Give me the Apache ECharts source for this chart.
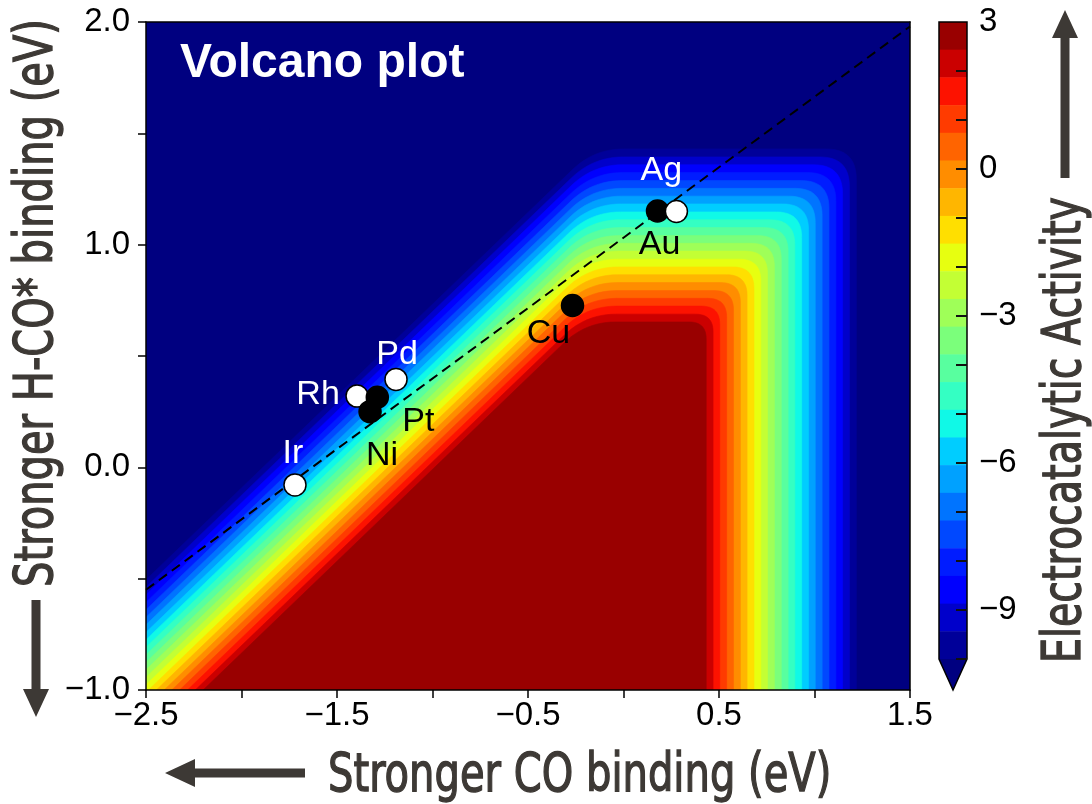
<!DOCTYPE html>
<html><head><meta charset="utf-8">
<script src="https://cdn.jsdelivr.net/npm/echarts@6/dist/echarts.min.js"></script>
<style>html,body{margin:0;padding:0;background:#fff}#c{width:1092px;height:804px}</style>
</head><body><div id="c"></div>
<script>
// ---- Data ----
// Colour-bar band edges (top to bottom)
const levels = [3, 2.435, 1.870, 1.304, 0.739, 0.174, -0.391, -0.957, -1.522, -2.087, -2.652, -3.217,
  -3.783, -4.348, -4.913, -5.478, -6.043, -6.609, -7.174, -7.739, -8.304, -8.870, -9.435, -10];
const colorbarTickLabels = [3, 0, -3, -6, -9];
const colorbarMinorTicks = [2, 1, 0, -1, -2, -3, -4, -5, -6, -7, -8, -9, -10];
// Contour lines for levels[1..23]: y of the flat top, x of the vertical right side,
// and x where the diagonal (upper-left) side crosses y = -1.0
const contourTopY = [0.653, 0.688, 0.724, 0.759, 0.794, 0.830, 0.865, 0.900, 0.935, 0.971, 1.006, 1.041,
  1.077, 1.112, 1.147, 1.183, 1.218, 1.253, 1.288, 1.324, 1.359, 1.394, 1.430];
const contourRightX = [0.433, 0.469, 0.504, 0.540, 0.576, 0.612, 0.647, 0.683, 0.719, 0.754, 0.790, 0.826,
  0.862, 0.897, 0.933, 0.969, 1.004, 1.040, 1.076, 1.112, 1.147, 1.183, 1.219];
const contourDiagX = [-2.201, -2.242, -2.283, -2.324, -2.365, -2.405, -2.446, -2.487, -2.528, -2.569, -2.610,
  -2.651, -2.692, -2.733, -2.774, -2.814, -2.855, -2.896, -2.937, -2.978, -3.019, -3.060, -3.100];
const diagSlope = 0.825;
// Catalysts
const catalysts = ['Rh', 'Pd', 'Ir', 'Pt', 'Ni', 'Cu', 'Au', 'Ag'];
const bindCO   = [-1.395, -1.191, -1.720, -1.289, -1.327, -0.267, 0.178, 0.277];
const bindHCO  = [0.320, 0.395, -0.079, 0.315, 0.250, 0.727, 1.151, 1.149];
const markerType = ['open', 'open', 'open', 'filled', 'filled', 'filled', 'filled', 'open'];
// Scaling line (dashed)
const scalingX = [-2.5, 1.5];
const scalingY = [-0.55, 1.98];
const xTickLabels = [-2.5, -1.5, -0.5, 0.5, 1.5];
const yTickLabels = [-1.0, 0.0, 1.0, 2.0];

// ---- Styles ----
const bandColors = ['#990000', '#cb0000', '#fd1200', '#ff3b00', '#ff6400', '#ff8d00', '#ffb600', '#ffdf00',
  '#e7ff10', '#c3ff34', '#9fff58', '#7bff7b', '#58ff9f', '#34ffc3', '#10f9e7', '#00cdff', '#00a1ff',
  '#0074ff', '#0048ff', '#001cff', '#0000fe', '#0000cb', '#000099'];
const underColor = '#000080';
const labelStyle = {
  Rh: {dx: -39, dy: -1, color: '#fff'}, Pd: {dx: 1, dy: -25, color: '#fff'}, Ir: {dx: -2, dy: -31, color: '#fff'},
  Pt: {dx: 41, dy: 24, color: '#000'}, Ni: {dx: 12, dy: 44, color: '#000'}, Cu: {dx: -24, dy: 28, color: '#000'},
  Au: {dx: 2, dy: 34, color: '#000'}, Ag: {dx: -15, dy: -41, color: '#fff'}
};
const numFont = '"Liberation Sans", Arial, sans-serif';
const titleFont = '"Liberation Sans Narrow", "DejaVu Sans Condensed", sans-serif';
const textGray = '#3d3935';
const minus = s => String(s).replace('-', '\u2212');

function corner(P0, P1, P2, r, n) {
  const d1 = Math.hypot(P0[0] - P1[0], P0[1] - P1[1]), d2 = Math.hypot(P2[0] - P1[0], P2[1] - P1[1]);
  const r1 = Math.min(r, d1 / 2), r2 = Math.min(r, d2 / 2);
  const S = [P1[0] + (P0[0] - P1[0]) / d1 * r1, P1[1] + (P0[1] - P1[1]) / d1 * r1];
  const E = [P1[0] + (P2[0] - P1[0]) / d2 * r2, P1[1] + (P2[1] - P1[1]) / d2 * r2];
  const pts = [];
  for (let i = 0; i <= n; i++) {
    const t = i / n, a = (1 - t) * (1 - t), b = 2 * (1 - t) * t, c = t * t;
    pts.push([a * S[0] + b * P1[0] + c * E[0], a * S[1] + b * P1[1] + c * E[1]]);
  }
  return pts;
}

function contourItem(params, api) {
  const k = api.value(0);
  const yT = contourTopY[k], xR = contourRightX[k], xD = contourDiagX[k];
  const yB = -1.4;
  const xA = xD + (yB + 1) / diagSlope;
  const xB = xD + (yT + 1) / diagSlope;
  const A = api.coord([xA, yB]), B = api.coord([xB, yT]), C = api.coord([xR, yT]), D = api.coord([xR, yB]);
  const pts = [A].concat(corner(A, B, C, 30, 12), corner(B, C, D, 17 + k * 0.6, 12), [D]);
  return {type: 'polygon', shape: {points: pts},
    style: {fill: bandColors[k], stroke: bandColors[k], lineWidth: 0.6}};
}

function bandItem(params, api) {
  const k = api.value(0);
  const p0 = api.coord([0, levels[k]]), p1 = api.coord([1, levels[k + 1]]);
  return {type: 'rect', shape: {x: p0[0], y: p0[1], width: p1[0] - p0[0], height: p1[1] - p0[1] + 0.5},
    style: {fill: bandColors[k]}};
}

function outlineItem(params, api) {
  const last = levels[levels.length - 1];
  const tl = api.coord([0, levels[0]]), tr = api.coord([1, levels[0]]);
  const br = api.coord([1, last]), bl = api.coord([0, last]);
  const tip = [(bl[0] + br[0]) / 2, bl[1] + 31];
  const children = [
    {type: 'polygon', shape: {points: [bl, br, tip]}, style: {fill: underColor}},
    {type: 'polygon', shape: {points: [tl, tr, br, tip, bl]}, style: {fill: null, stroke: '#000', lineWidth: 1.5}}
  ];
  colorbarMinorTicks.forEach(v => {
    const p = api.coord([1, v]);
    children.push({type: 'line', shape: {x1: p[0] - 11, y1: p[1], x2: p[0], y2: p[1]},
      style: {stroke: '#111', lineWidth: 2}});
  });
  return {type: 'group', children};
}

const contourData = [];
for (let k = contourTopY.length - 1; k >= 0; k--) contourData.push([k]);
const bandData = bandColors.map((c, k) => [k]);

const scatterData = catalysts.map((n, i) => ({
  name: n, value: [bindCO[i], bindHCO[i]],
  itemStyle: {color: markerType[i] === 'open' ? '#fff' : '#000', borderColor: '#000', borderWidth: 1.5, opacity: 1},
  label: {show: true, formatter: n, position: 'inside', offset: [labelStyle[n].dx, labelStyle[n].dy],
    color: labelStyle[n].color, fontSize: 34, fontFamily: numFont, opacity: 1}
}));

const chart = echarts.init(document.getElementById('c'), null, {renderer: 'canvas'});
const axisLine = {show: true, onZero: false, lineStyle: {color: '#000', width: 1.5}};
const titleStyle = (text, align) => ({text, fill: textGray, stroke: textGray, lineWidth: 1.3,
  font: '53px ' + titleFont, textAlign: align, textVerticalAlign: 'middle'});
chart.setOption({
  animation: false,
  grid: [
    {left: 146, top: 22, width: 764, height: 668, show: true, backgroundColor: underColor, borderWidth: 0},
    {left: 939, top: 22, width: 28, height: 637, show: false}
  ],
  xAxis: [
    {type: 'value', gridIndex: 0, min: -2.5, max: 1.5, interval: 0.5, z: 5,
      axisLine: axisLine, splitLine: {show: false},
      axisTick: {show: true, length: 8, lineStyle: {color: '#000', width: 1.5}},
      axisLabel: {show: true, margin: 9, color: '#000', fontSize: 33, fontFamily: numFont,
        showMinLabel: true, showMaxLabel: true,
        formatter: v => xTickLabels.some(t => Math.abs(t - v) < 1e-6) ? minus(v.toFixed(1)) : ''}},
    {type: 'value', gridIndex: 0, position: 'top', min: -2.5, max: 1.5, z: 5, axisLine: axisLine,
      axisTick: {show: false}, axisLabel: {show: false}, splitLine: {show: false}},
    {type: 'value', gridIndex: 1, min: 0, max: 1, show: false}
  ],
  yAxis: [
    {type: 'value', gridIndex: 0, min: -1, max: 2, interval: 0.5, z: 5,
      axisLine: axisLine, splitLine: {show: false},
      axisTick: {show: true, length: 8, lineStyle: {color: '#000', width: 1.5}},
      axisLabel: {show: true, margin: 16, color: '#000', fontSize: 33, fontFamily: numFont,
        showMinLabel: true, showMaxLabel: true,
        formatter: v => yTickLabels.some(t => Math.abs(t - v) < 1e-6) ? minus(v.toFixed(1)) : ''}},
    {type: 'value', gridIndex: 0, position: 'right', min: -1, max: 2, z: 5, axisLine: axisLine,
      axisTick: {show: false}, axisLabel: {show: false}, splitLine: {show: false}},
    {type: 'value', gridIndex: 1, position: 'right', min: -10, max: 3, z: 5,
      axisLine: {show: false}, splitLine: {show: false}, axisTick: {show: false},
      axisLabel: {show: true, margin: 12, color: '#000', fontSize: 33, fontFamily: numFont,
        customValues: colorbarTickLabels, formatter: v => minus(v)}}
  ],
  series: [
    {type: 'custom', xAxisIndex: 0, yAxisIndex: 0, clip: true, renderItem: contourItem, data: contourData, z: 1, silent: true},
    {type: 'line', xAxisIndex: 0, yAxisIndex: 0, data: scalingX.map((x, i) => [x, scalingY[i]]), symbol: 'none', z: 3,
      lineStyle: {color: '#000', width: 2, type: [10, 6]}, silent: true},
    {type: 'scatter', xAxisIndex: 0, yAxisIndex: 0, symbol: 'circle', symbolSize: 22, data: scatterData, z: 4, silent: true},
    {type: 'custom', xAxisIndex: 2, yAxisIndex: 2, renderItem: bandItem, data: bandData, z: 1, silent: true},
    {type: 'custom', xAxisIndex: 2, yAxisIndex: 2, renderItem: outlineItem, data: [[0]], z: 2, silent: true}
  ],
  graphic: [
    {type: 'text', x: 180, y: 64, z: 10, style: {text: 'Volcano plot', fill: '#fff',
      font: 'bold 48px ' + numFont, textAlign: 'left', textVerticalAlign: 'middle'}},
    {type: 'text', x: 328, y: 777, scaleX: 0.84, style: titleStyle('Stronger CO binding (eV)', 'left')},
    {type: 'polygon', shape: {points: [[165, 773], [195, 759], [195, 768.5], [305, 768.5], [305, 777.5], [195, 777.5], [195, 787]]},
      style: {fill: textGray}},
    {type: 'text', x: 38, y: 303, rotation: Math.PI / 2, scaleX: 0.84, style: titleStyle('Stronger H-CO* binding (eV)', 'center')},
    {type: 'polygon', shape: {points: [[36, 717], [23, 689], [31.5, 689], [31.5, 600], [40.5, 600], [40.5, 689], [49, 689]]},
      style: {fill: textGray}},
    {type: 'text', x: 1066, y: 430, rotation: Math.PI / 2, scaleX: 0.83, style: titleStyle('Electrocatalytic Activity', 'center')},
    {type: 'polygon', shape: {points: [[1065, 10], [1078, 38], [1069.5, 38], [1069.5, 178], [1060.5, 178], [1060.5, 38], [1052, 38]]},
      style: {fill: textGray}}
  ]
});
</script></body></html>
